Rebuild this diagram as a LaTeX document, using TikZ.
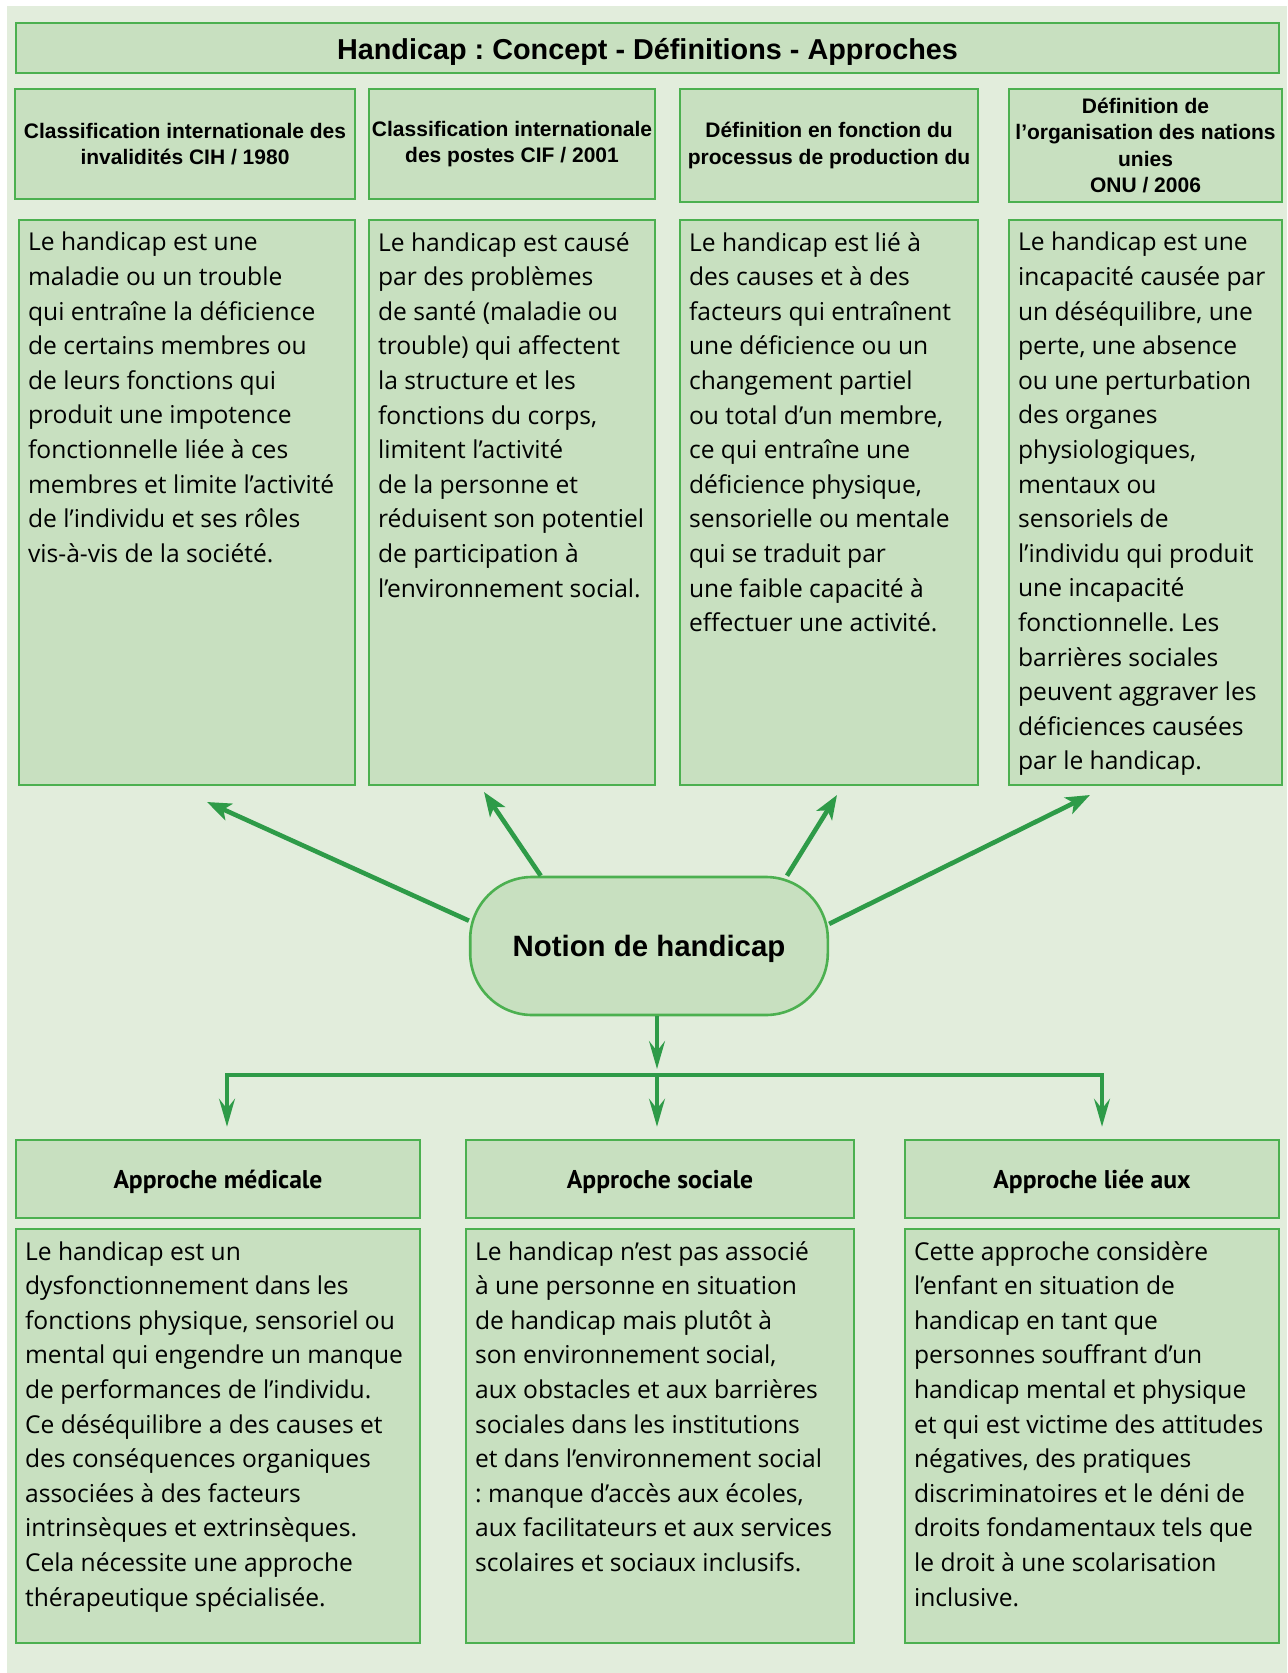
\documentclass[tikz,border=0pt]{standalone}
\usepackage{fontspec}
\setmainfont{Open Sans}
\newfontfamily\helv{Liberation Sans}
\newfontfamily\apprfont{PT Sans}
\usetikzlibrary{arrows.meta,fit}
\definecolor{bggreen}{RGB}{226,237,220}
\definecolor{boxgreen}{RGB}{200,224,192}
\definecolor{edgegreen}{RGB}{76,176,80}
\definecolor{arrowgreen}{RGB}{46,155,72}
\frenchspacing

\begin{document}
\begin{tikzpicture}[x=0.5pt,y=-0.5pt,
    box/.style={draw=edgegreen,fill=boxgreen,line width=1.3pt,inner sep=0pt},
    head/.style={font=\helv\bfseries\fontsize{10.5}{13.3}\selectfont,align=center,inner sep=0pt},
    appr/.style={font=\apprfont\bfseries\fontsize{12.8}{15}\selectfont,inner sep=0pt,yshift=-1.5pt},
    body/.style={anchor=north west,inner sep=0pt,align=left,font=\fontsize{12.3}{17.3}\selectfont},
    bigarrow/.style={draw=arrowgreen,line width=2.3pt,-{Stealth[length=12pt,width=9pt,inset=3pt]}},
    smallarrow/.style={draw=arrowgreen,line width=1.6pt,-{Stealth[length=14pt,width=8pt,inset=5pt]},shorten >=6pt},
    smallline/.style={draw=arrowgreen,line width=1.6pt,line cap=rect}]
  \useasboundingbox (0,0) rectangle (1287,1673);
  \fill[bggreen] (7,6) rectangle (1287,1673);
  % title
  \node[box,fit={(16,23) (1279,73)}] (A0_0) {};
  \node[font=\helv\bfseries\fontsize{14.4}{16}\selectfont,yshift=-2pt] (T0_0) at (A0_0) {Handicap : Concept - Définitions - Approches};
  % definitions
  \node[box,fit={(15,89) (355,199)}] (A1_0) {};
  \node[box,fit={(369,89) (655,199)}] (A1_1) {};
  \node[box,fit={(680,89) (978,202)}] (A1_2) {};
  \node[box,fit={(1009,89) (1282,202)}] (A1_3) {};
  \node[head] (T1_0) at (A1_0) {Classification internationale des\\invalidités CIH / 1980};
  \node[head] (T1_1) at (A1_1) {Classification internationale\\des postes CIF / 2001};
  \node[head] (T1_2) at (A1_2) {Définition en fonction du\\processus de production du};
  \node[head] (T1_3) at (A1_3) {Définition de\\l’organisation des nations\\unies\\ONU / 2006};
  \node[box,fit={(19,220) (355,785)}] (A2_0) {};
  \node[box,fit={(369,220) (655,785)}] (A2_1) {};
  \node[box,fit={(680,220) (978,785)}] (A2_2) {};
  \node[box,fit={(1009,220) (1282,785)}] (A2_3) {};
  \node[body] (T2_0) at ([xshift=5pt,yshift=-6.6pt]A2_0.north west) {Le handicap est une\\maladie ou un trouble\\qui entraîne la déficience\\de certains membres ou\\de leurs fonctions qui\\produit une impotence\\fonctionnelle liée à ces\\membres et limite l’activité\\de l’individu et ses rôles\\vis-à-vis de la société.};
  \node[body] (T2_1) at ([xshift=5pt,yshift=-6.6pt]A2_1.north west) {Le handicap est causé\\par des problèmes\\de santé (maladie ou\\trouble) qui affectent\\la structure et les\\fonctions du corps,\\limitent l’activité\\de la personne et\\réduisent son potentiel\\de participation à\\l’environnement social.};
  \node[body] (T2_2) at ([xshift=5pt,yshift=-6.6pt]A2_2.north west) {Le handicap est lié à\\des causes et à des\\facteurs qui entraînent\\une déficience ou un\\changement partiel\\ou total d’un membre,\\ce qui entraîne une\\déficience physique,\\sensorielle ou mentale\\qui se traduit par\\une faible capacité à\\effectuer une activité.};
  \node[body] (T2_3) at ([xshift=5pt,yshift=-6.6pt]A2_3.north west) {Le handicap est une\\incapacité causée par\\un déséquilibre, une\\perte, une absence\\ou une perturbation\\des organes\\physiologiques,\\mentaux ou\\sensoriels de\\l’individu qui produit\\une incapacité\\fonctionnelle. Les\\barrières sociales\\peuvent aggraver les\\déficiences causées\\par le handicap.};
  % centre
  \node[box,rounded corners=31pt,minimum width=178.8pt,minimum height=69pt,text height=13.5pt,text depth=3.2pt,font=\helv\bfseries\fontsize{14.7}{16}\selectfont] (A3_0) at (649,946) {Notion de handicap};
  \coordinate (C0) at (207,802);
  \coordinate (C1) at (484,792);
  \coordinate (C2) at (837,795);
  \coordinate (C3) at (1090,795);
  \path (A3_0.172) edge [bigarrow] (C0);
  \path (A3_0.147) edge [bigarrow] (C1);
  \path (A3_0.27) edge [bigarrow] (C2);
  \path (A3_0.7) edge [bigarrow] (C3);
  \coordinate (D0) at (657,1075);
  \coordinate (L0) at (227,1075);
  \coordinate (L2) at (1102,1075);
  \path (A3_0.south -| D0) edge [smallarrow,shorten >=3pt] (D0);
  \draw[smallline] (L0) -- (L2);
  % approches
  \node[box,fit={(16,1140) (420,1218)}] (A4_0) {};
  \node[box,fit={(466,1140) (854,1218)}] (A4_1) {};
  \node[box,fit={(905,1140) (1279,1218)}] (A4_2) {};
  \node[appr] (T4_0) at (A4_0) {Approche médicale};
  \node[appr] (T4_1) at (A4_1) {Approche sociale};
  \node[appr] (T4_2) at (A4_2) {Approche liée aux};
  \path (L0) edge [smallarrow] (L0 |- A4_0.north);
  \path (D0) edge [smallarrow] (D0 |- A4_1.north);
  \path (L2) edge [smallarrow] (L2 |- A4_2.north);
  \node[box,fit={(16,1229) (420,1643)}] (A5_0) {};
  \node[box,fit={(466,1229) (854,1643)}] (A5_1) {};
  \node[box,fit={(905,1229) (1279,1643)}] (A5_2) {};
  \node[body] (T5_0) at ([xshift=5pt,yshift=-6.6pt]A5_0.north west) {Le handicap est un\\dysfonctionnement dans les\\fonctions physique, sensoriel ou\\mental qui engendre un manque\\de performances de l’individu.\\Ce déséquilibre a des causes et\\des conséquences organiques\\associées à des facteurs\\intrinsèques et extrinsèques.\\Cela nécessite une approche\\thérapeutique spécialisée.};
  \node[body] (T5_1) at ([xshift=5pt,yshift=-6.6pt]A5_1.north west) {Le handicap n’est pas associé\\à une personne en situation\\de handicap mais plutôt à\\son environnement social,\\aux obstacles et aux barrières\\sociales dans les institutions\\et dans l’environnement social\\: manque d’accès aux écoles,\\aux facilitateurs et aux services\\scolaires et sociaux inclusifs.};
  \node[body] (T5_2) at ([xshift=5pt,yshift=-6.6pt]A5_2.north west) {Cette approche considère\\l’enfant en situation de\\handicap en tant que\\personnes souffrant d’un\\handicap mental et physique\\et qui est victime des attitudes\\négatives, des pratiques\\discriminatoires et le déni de\\droits fondamentaux tels que\\le droit à une scolarisation\\inclusive.};
\end{tikzpicture}
\end{document}
